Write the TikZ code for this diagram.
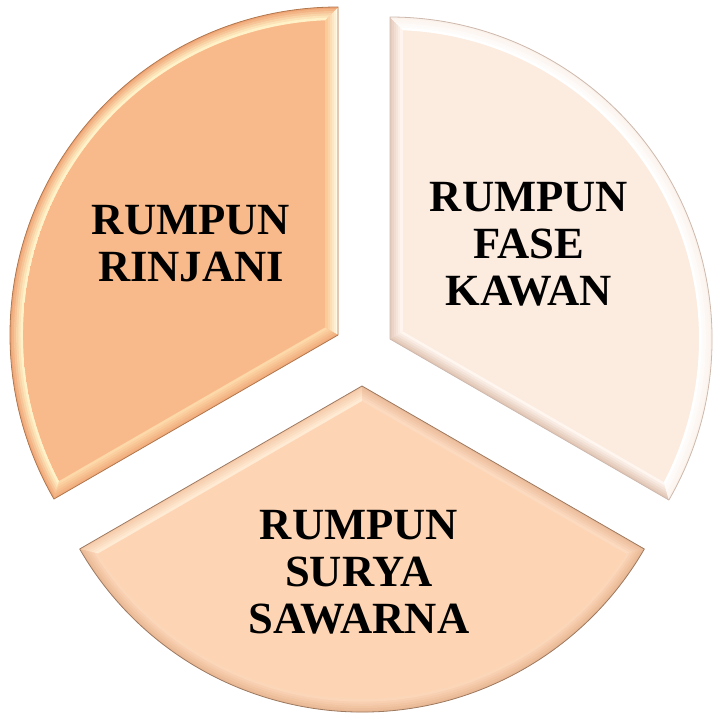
\documentclass[tikz,border=0pt]{standalone}
\usepackage{fontspec}
\setmainfont{Liberation Serif}
\usetikzlibrary{calc}

% sector A: RUMPUN RINJANI
\definecolor{sAface}{HTML}{F9BA8B}
\definecolor{sAe1out}{HTML}{FFF8E2}
\definecolor{sAe1in}{HTML}{FBCB98}
\definecolor{sAe2out}{HTML}{F2AC7C}
\definecolor{sAe2in}{HTML}{FDD8A8}
\definecolor{sAarcout}{HTML}{F0A676}
\definecolor{sAarcin}{HTML}{FFF2C8}
\definecolor{sAline}{HTML}{B0784F}
% sector B: RUMPUN FASE KAWAN
\definecolor{sBface}{HTML}{FCEBDF}
\definecolor{sBe1out}{HTML}{E2C6B6}
\definecolor{sBe1in}{HTML}{FFF6EF}
\definecolor{sBe2out}{HTML}{E6CCBD}
\definecolor{sBe2in}{HTML}{FFF5EE}
\definecolor{sBarcout}{HTML}{FBF2EC}
\definecolor{sBarcin}{HTML}{FFFFFF}
\definecolor{sBline}{HTML}{CDB9AD}
% sector C: RUMPUN SURYA SAWARNA
\definecolor{sCface}{HTML}{FDD5B5}
\definecolor{sCe1out}{HTML}{F5CAA8}
\definecolor{sCe1in}{HTML}{FFEBD4}
\definecolor{sCe2out}{HTML}{EBBC9A}
\definecolor{sCe2in}{HTML}{FCDAC0}
\definecolor{sCarcout}{HTML}{E9B894}
\definecolor{sCarcin}{HTML}{FCD6B8}
\definecolor{sCline}{HTML}{9C7A62}

\tikzset{
  lbl/.style={font=\fontsize{44.6}{47}\selectfont\bfseries, align=center,
    inner sep=0pt, text=black}
}

% #1 prefix, #2 apex coordinate, #3 start angle, #4 end angle, #5 radius
\newcommand{\bevsec}[5]{%
  \pgfmathsetmacro{\bvW}{13}%
  \pgfmathsetmacro{\bvB}{(#3+#4)/2}%
  \pgfmathsetmacro{\bvRi}{#5-\bvW}%
  \pgfmathsetmacro{\bvD}{asin(\bvW/\bvRi)}%
  \pgfmathsetmacro{\bvAa}{#3+\bvD}%
  \pgfmathsetmacro{\bvAb}{#4-\bvD}%
  \pgfmathsetmacro{\bvIa}{\bvW/sin(60)}%
  \pgfmathsetmacro{\bvNa}{#3+90}%
  \pgfmathsetmacro{\bvNb}{#4-90}%
  \pgfmathsetmacro{\bvRL}{#5+30}%
  \pgfmathsetmacro{\bvSa}{#3-5}%
  \pgfmathsetmacro{\bvEa}{#4+5}%
  \pgfmathsetmacro{\bvLw}{\bvW/6+0.7}%
  \coordinate (#1o1) at ($(#2)+(#3:#5)$);
  \coordinate (#1o2) at ($(#2)+(#4:#5)$);
  \coordinate (#1i1) at ($(#2)+(\bvAa:\bvRi)$);
  \coordinate (#1i2) at ($(#2)+(\bvAb:\bvRi)$);
  \coordinate (#1ia) at ($(#2)+(\bvB:\bvIa)$);
  % whole sector in face colour
  \fill[#1face] (#2) -- (#1o1) arc[start angle=#3, end angle=#4, radius=#5] -- cycle;
  % band along edge 1
  \begin{scope}
    \clip (#2) -- (#1o1) -- (#1i1) -- (#1ia) -- cycle;
    \foreach \k in {0,...,5}{%
      \pgfmathtruncatemacro{\bvP}{\k*20}%
      \pgfmathsetmacro{\bvDd}{(\k+0.5)*\bvW/6}%
      \draw[line width=\bvLw pt, #1e1in!\bvP!#1e1out]
        ($(#2)+(\bvNa:\bvDd)+(#3:-30)$) -- ($(#2)+(\bvNa:\bvDd)+(#3:\bvRL)$);
    }
  \end{scope}
  % band along edge 2
  \begin{scope}
    \clip (#2) -- (#1ia) -- (#1i2) -- (#1o2) -- cycle;
    \foreach \k in {0,...,5}{%
      \pgfmathtruncatemacro{\bvP}{\k*20}%
      \pgfmathsetmacro{\bvDd}{(\k+0.5)*\bvW/6}%
      \draw[line width=\bvLw pt, #1e2in!\bvP!#1e2out]
        ($(#2)+(\bvNb:\bvDd)+(#4:-30)$) -- ($(#2)+(\bvNb:\bvDd)+(#4:\bvRL)$);
    }
  \end{scope}
  % band along the arc
  \begin{scope}
    \clip (#1o1) arc[start angle=#3, end angle=#4, radius=#5] -- (#1i2)
      arc[start angle=\bvAb, end angle=\bvAa, radius=\bvRi] -- cycle;
    \foreach \k in {0,...,5}{%
      \pgfmathtruncatemacro{\bvP}{\k*20}%
      \pgfmathsetmacro{\bvRr}{#5-(\k+0.5)*\bvW/6}%
      \draw[line width=\bvLw pt, #1arcin!\bvP!#1arcout]
        ($(#2)+(\bvSa:\bvRr)$) arc[start angle=\bvSa, end angle=\bvEa, radius=\bvRr];
    }
  \end{scope}
  % outline
  \draw[#1line, line width=0.8pt, line join=round]
    (#2) -- (#1o1) arc[start angle=#3, end angle=#4, radius=#5] -- cycle;
}

\begin{document}
\begin{tikzpicture}[x=1pt, y=1pt]
  \useasboundingbox (0,0) rectangle (713,-714);
  \coordinate (apA) at (338,-335);
  \coordinate (apB) at (390,-339);
  \coordinate (apC) at (362,-386);

  \bevsec{sA}{apA}{90}{210}{328}
  \bevsec{sB}{apB}{-30}{90}{322}
  \bevsec{sC}{apC}{210}{330}{326}

  \node[lbl] (tA) at (191,-244) {RUMPUN\\RINJANI};
  \node[lbl] (tB) at (529,-244) {RUMPUN\\FASE\\KAWAN};
  \node[lbl] (tC) at (359,-572) {RUMPUN\\SURYA\\SAWARNA};
\end{tikzpicture}
\end{document}
